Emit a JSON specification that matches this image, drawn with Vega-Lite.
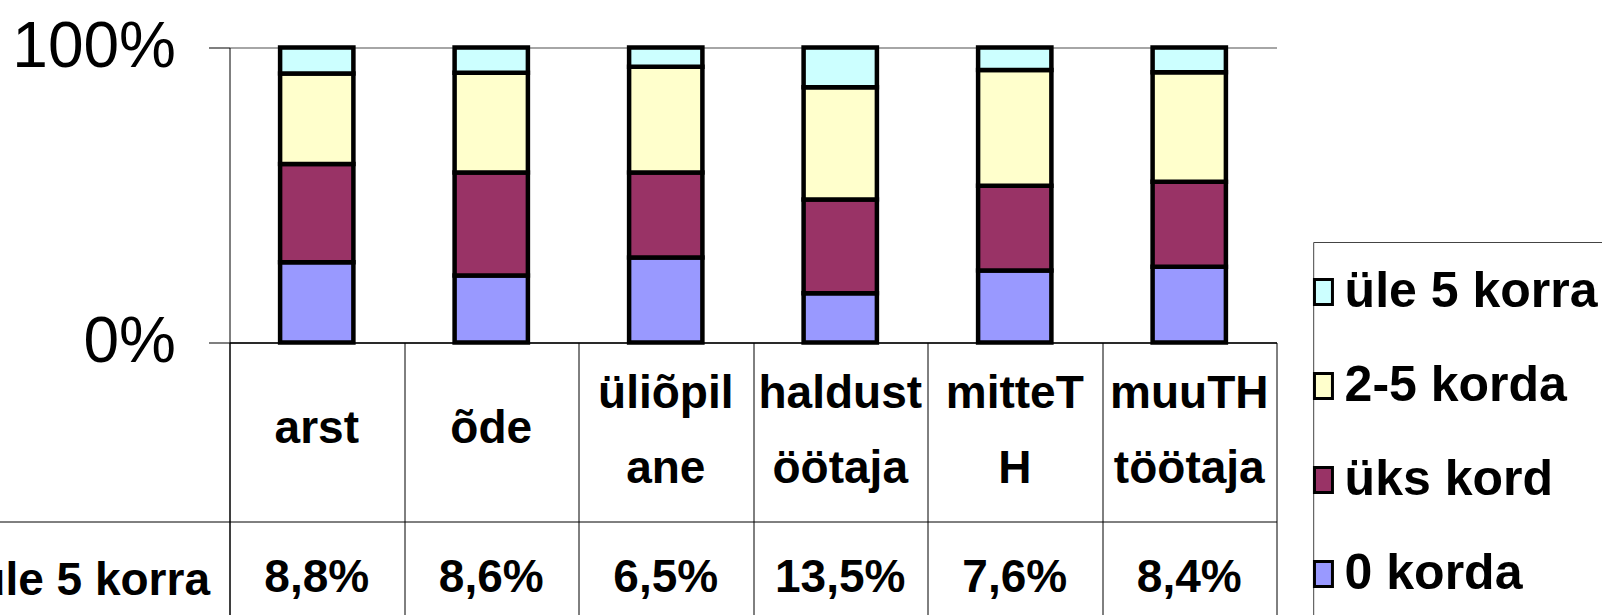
{
  "$schema": "https://vega.github.io/schema/vega-lite/v6.json",
  "padding": {"left": -23.5, "top": 15.5, "right": 0, "bottom": 0},
  "background": "white",
  "config": {"view": {"stroke": null}},
  "datasets": {
    "bars": [
      {"cat": "arst", "grp": "0 korda", "rank": 1, "pct": 27.2},
      {"cat": "arst", "grp": "üks kord", "rank": 2, "pct": 33.3},
      {"cat": "arst", "grp": "2-5 korda", "rank": 3, "pct": 30.7},
      {"cat": "arst", "grp": "üle 5 korra", "rank": 4, "pct": 8.8},
      {"cat": "õde", "grp": "0 korda", "rank": 1, "pct": 22.7},
      {"cat": "õde", "grp": "üks kord", "rank": 2, "pct": 34.9},
      {"cat": "õde", "grp": "2-5 korda", "rank": 3, "pct": 33.8},
      {"cat": "õde", "grp": "üle 5 korra", "rank": 4, "pct": 8.6},
      {"cat": "üliõpilane", "grp": "0 korda", "rank": 1, "pct": 28.8},
      {"cat": "üliõpilane", "grp": "üks kord", "rank": 2, "pct": 28.8},
      {"cat": "üliõpilane", "grp": "2-5 korda", "rank": 3, "pct": 35.9},
      {"cat": "üliõpilane", "grp": "üle 5 korra", "rank": 4, "pct": 6.5},
      {"cat": "haldustöötaja", "grp": "0 korda", "rank": 1, "pct": 16.7},
      {"cat": "haldustöötaja", "grp": "üks kord", "rank": 2, "pct": 31.8},
      {"cat": "haldustöötaja", "grp": "2-5 korda", "rank": 3, "pct": 38.0},
      {"cat": "haldustöötaja", "grp": "üle 5 korra", "rank": 4, "pct": 13.5},
      {"cat": "mitteTH", "grp": "0 korda", "rank": 1, "pct": 24.4},
      {"cat": "mitteTH", "grp": "üks kord", "rank": 2, "pct": 28.7},
      {"cat": "mitteTH", "grp": "2-5 korda", "rank": 3, "pct": 39.3},
      {"cat": "mitteTH", "grp": "üle 5 korra", "rank": 4, "pct": 7.6},
      {"cat": "muuTH töötaja", "grp": "0 korda", "rank": 1, "pct": 25.7},
      {"cat": "muuTH töötaja", "grp": "üks kord", "rank": 2, "pct": 28.8},
      {"cat": "muuTH töötaja", "grp": "2-5 korda", "rank": 3, "pct": 37.1},
      {"cat": "muuTH töötaja", "grp": "üle 5 korra", "rank": 4, "pct": 8.4}
    ],
    "table": [
      {"cat": "arst", "row": "hdr", "txt": "arst"},
      {"cat": "õde", "row": "hdr", "txt": "õde"},
      {"cat": "üliõpilane", "row": "hdr", "txt": "üliõpil|ane"},
      {"cat": "haldustöötaja", "row": "hdr", "txt": "haldust|öötaja"},
      {"cat": "mitteTH", "row": "hdr", "txt": "mitteT|H"},
      {"cat": "muuTH töötaja", "row": "hdr", "txt": "muuTH|töötaja"},
      {"cat": "arst", "row": "üle 5 korra", "txt": "8,8%"},
      {"cat": "õde", "row": "üle 5 korra", "txt": "8,6%"},
      {"cat": "üliõpilane", "row": "üle 5 korra", "txt": "6,5%"},
      {"cat": "haldustöötaja", "row": "üle 5 korra", "txt": "13,5%"},
      {"cat": "mitteTH", "row": "üle 5 korra", "txt": "7,6%"},
      {"cat": "muuTH töötaja", "row": "üle 5 korra", "txt": "8,4%"}
    ]
  },
  "spacing": 0,
  "bounds": "flush",
  "resolve": {"scale": {"x": "independent", "y": "independent"}},
  "vconcat": [
    {
      "width": 1047,
      "height": 295,
      "data": {"name": "bars"},
      "mark": {"type": "bar", "stroke": "#000", "strokeWidth": 4.5, "width": {"band": 0.42}},
      "encoding": {
        "x": {
          "field": "cat", "type": "nominal",
          "sort": ["arst", "õde", "üliõpilane", "haldustöötaja", "mitteTH", "muuTH töötaja"],
          "scale": {"paddingInner": 0, "paddingOuter": 0},
          "axis": {"title": null, "labels": false, "ticks": false, "domain": true, "domainColor": "#000", "domainWidth": 1.5, "grid": false}
        },
        "y": {
          "field": "pct", "type": "quantitative", "stack": "zero",
          "scale": {"domain": [0, 100], "nice": false},
          "axis": {
            "title": null, "values": [0, 100], "labelExpr": "datum.value + '%'",
            "labelFont": "Liberation Sans", "labelFontSize": 64, "labelLimit": 400,
            "labelColor": "#000", "labelPadding": 33,
            "tickSize": 21, "tickColor": "#555", "tickWidth": 1.5,
            "domainColor": "#000", "domainWidth": 1,
            "grid": true, "gridColor": "#888", "gridWidth": 1.5
          }
        },
        "color": {
          "field": "grp", "type": "nominal",
          "scale": {
            "domain": ["üle 5 korra", "2-5 korda", "üks kord", "0 korda"],
            "range": ["#CCFFFF", "#FFFFCC", "#993366", "#9999FF"]
          },
          "legend": {
            "title": null, "orient": "none", "legendX": 1083.7, "legendY": 194.5,
            "padding": 25, "fillColor": "#fff", "strokeColor": "#444",
            "labelFont": "Liberation Sans", "labelFontWeight": "bold", "labelFontSize": 50,
            "labelColor": "#000", "labelOffset": -43.6, "labelLimit": 500, "rowPadding": 44,
            "symbolType": "M-3.9,-1H-2.46V1H-3.9Z", "symbolSize": 625,
            "symbolStrokeColor": "#000", "symbolStrokeWidth": 3, "symbolOpacity": 1
          }
        },
        "order": {"field": "rank", "type": "quantitative"}
      }
    },
    {
      "width": 1047,
      "height": 358.4,
      "data": {"name": "table"},
      "encoding": {
        "x": {
          "field": "cat", "type": "nominal",
          "sort": ["arst", "õde", "üliõpilane", "haldustöötaja", "mitteTH", "muuTH töötaja"],
          "scale": {"paddingInner": 0, "paddingOuter": 0},
          "axis": {"title": null, "labels": false, "ticks": false, "domain": false, "grid": true, "tickBand": "extent", "gridColor": "#000", "gridOpacity": 1, "gridWidth": 1}
        },
        "y": {
          "field": "row", "type": "nominal",
          "scale": {"domain": ["hdr", "gap", "üle 5 korra", "end"], "paddingInner": 0, "paddingOuter": 0},
          "axis": {
            "title": null, "values": ["üle 5 korra"],
            "tickOffset": -44.8, "labelOffset": 58.5,
            "tickSize": 230, "tickColor": "#000", "tickWidth": 1,
            "labelPadding": -210, "labelLimit": 500,
            "labelFont": "Liberation Sans",
            "labelFontWeight": "bold", "labelFontSize": 46, "labelColor": "#000",
            "domain": true, "domainColor": "#000",
            "grid": true, "gridColor": "#000", "gridOpacity": 1
          }
        },
        "text": {"field": "txt"}
      },
      "layer": [
        {
          "transform": [{"filter": "datum.row == 'hdr' && indexof(datum.txt, '|') < 0"}],
          "mark": {"type": "text", "font": "Liberation Sans", "fontWeight": "bold", "fontSize": 46, "baseline": "middle", "align": "center", "dy": 41.9, "color": "#000"}
        },
        {
          "transform": [{"filter": "datum.row == 'hdr' && indexof(datum.txt, '|') >= 0"}],
          "mark": {"type": "text", "font": "Liberation Sans", "fontWeight": "bold", "fontSize": 46, "lineBreak": "|", "lineHeight": 75, "baseline": "middle", "align": "center", "dy": 6.9, "color": "#000"}
        },
        {
          "transform": [{"filter": "datum.row != 'hdr'"}],
          "mark": {"type": "text", "font": "Liberation Sans", "fontWeight": "bold", "fontSize": 46, "baseline": "middle", "align": "center", "dy": 11.4, "color": "#000"}
        }
      ]
    }
  ]
}
